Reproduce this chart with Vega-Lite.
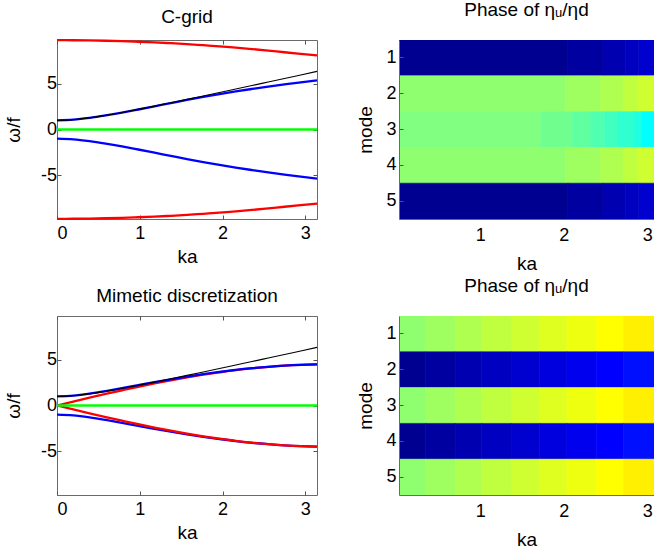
{
"$schema":"https://vega.github.io/schema/vega-lite/v6.json",
"padding":{"left":4,"top":0,"right":0,"bottom":0},
"config":{
 "font":"Liberation Sans",
 "view":{"stroke":"#6a6a6a"},
 "axis":{"grid":false,"domain":false,"domainColor":"#6a6a6a","tickColor":"#555555","tickSize":-4,"labelFontSize":18,"titleFontSize":19,"titleFontWeight":"normal","labelColor":"#000000","titleColor":"#000000"},
 "axisX":{"labelPadding":9.5,"titlePadding":4.5},
 "axisY":{"labelPadding":4.5,"titlePadding":16.5},
 "title":{"fontSize":19,"fontWeight":"normal","color":"#000000"},
 "line":{"interpolate":"monotone"}
},
"datasets":{
 "cgrid":[
  {"c":"b+","k":0,"w":1},{"c":"b+","k":0.1963,"w":1.074},{"c":"b+","k":0.3927,"w":1.27},{"c":"b+","k":0.589,"w":1.54},{"c":"b+","k":0.7854,"w":1.85},{"c":"b+","k":0.9817,"w":2.19},{"c":"b+","k":1.1781,"w":2.54},{"c":"b+","k":1.3744,"w":2.89},{"c":"b+","k":1.5708,"w":3.24},{"c":"b+","k":1.7671,"w":3.57},{"c":"b+","k":1.9635,"w":3.88},{"c":"b+","k":2.1598,"w":4.17},{"c":"b+","k":2.3562,"w":4.44},{"c":"b+","k":2.5525,"w":4.7},{"c":"b+","k":2.7489,"w":4.94},{"c":"b+","k":2.9452,"w":5.17},{"c":"b+","k":3.1416,"w":5.38},
  {"c":"b-","k":0,"w":-1},{"c":"b-","k":0.1963,"w":-1.074},{"c":"b-","k":0.3927,"w":-1.27},{"c":"b-","k":0.589,"w":-1.54},{"c":"b-","k":0.7854,"w":-1.85},{"c":"b-","k":0.9817,"w":-2.19},{"c":"b-","k":1.1781,"w":-2.54},{"c":"b-","k":1.3744,"w":-2.89},{"c":"b-","k":1.5708,"w":-3.24},{"c":"b-","k":1.7671,"w":-3.57},{"c":"b-","k":1.9635,"w":-3.88},{"c":"b-","k":2.1598,"w":-4.17},{"c":"b-","k":2.3562,"w":-4.44},{"c":"b-","k":2.5525,"w":-4.7},{"c":"b-","k":2.7489,"w":-4.94},{"c":"b-","k":2.9452,"w":-5.17},{"c":"b-","k":3.1416,"w":-5.38},
  {"c":"r+","k":0,"w":9.78},{"c":"r+","k":0.1963,"w":9.77},{"c":"r+","k":0.3927,"w":9.75},{"c":"r+","k":0.589,"w":9.72},{"c":"r+","k":0.7854,"w":9.67},{"c":"r+","k":0.9817,"w":9.61},{"c":"r+","k":1.1781,"w":9.54},{"c":"r+","k":1.3744,"w":9.45},{"c":"r+","k":1.5708,"w":9.35},{"c":"r+","k":1.7671,"w":9.23},{"c":"r+","k":1.9635,"w":9.11},{"c":"r+","k":2.1598,"w":8.96},{"c":"r+","k":2.3562,"w":8.81},{"c":"r+","k":2.5525,"w":8.64},{"c":"r+","k":2.7489,"w":8.46},{"c":"r+","k":2.9452,"w":8.29},{"c":"r+","k":3.1416,"w":8.12},
  {"c":"r-","k":0,"w":-9.78},{"c":"r-","k":0.1963,"w":-9.77},{"c":"r-","k":0.3927,"w":-9.75},{"c":"r-","k":0.589,"w":-9.72},{"c":"r-","k":0.7854,"w":-9.67},{"c":"r-","k":0.9817,"w":-9.61},{"c":"r-","k":1.1781,"w":-9.54},{"c":"r-","k":1.3744,"w":-9.45},{"c":"r-","k":1.5708,"w":-9.35},{"c":"r-","k":1.7671,"w":-9.23},{"c":"r-","k":1.9635,"w":-9.11},{"c":"r-","k":2.1598,"w":-8.96},{"c":"r-","k":2.3562,"w":-8.81},{"c":"r-","k":2.5525,"w":-8.64},{"c":"r-","k":2.7489,"w":-8.46},{"c":"r-","k":2.9452,"w":-8.29},{"c":"r-","k":3.1416,"w":-8.12},
  {"c":"g","k":0,"w":0},{"c":"g","k":3.1416,"w":0},
  {"c":"x","k":0,"w":1},{"c":"x","k":0.1963,"w":1.0744},{"c":"x","k":0.3927,"w":1.2716},{"c":"x","k":0.589,"w":1.5453},{"c":"x","k":0.7854,"w":1.8621},{"c":"x","k":0.9817,"w":2.2035},{"c":"x","k":1.1781,"w":2.5596},{"c":"x","k":1.3744,"w":2.9252},{"c":"x","k":1.5708,"w":3.2969},{"c":"x","k":1.7671,"w":3.6731},{"c":"x","k":1.9635,"w":4.0523},{"c":"x","k":2.1598,"w":4.4339},{"c":"x","k":2.3562,"w":4.8173},{"c":"x","k":2.5525,"w":5.2021},{"c":"x","k":2.7489,"w":5.588},{"c":"x","k":2.9452,"w":5.9748},{"c":"x","k":3.1416,"w":6.3623}
 ],
 "mimetic":[
  {"c":"b+","k":0,"w":1},{"c":"b+","k":0.1963,"w":1.084},{"c":"b+","k":0.3927,"w":1.298},{"c":"b+","k":0.589,"w":1.582},{"c":"b+","k":0.7854,"w":1.9},{"c":"b+","k":0.9817,"w":2.232},{"c":"b+","k":1.1781,"w":2.559},{"c":"b+","k":1.3744,"w":2.866},{"c":"b+","k":1.5708,"w":3.16},{"c":"b+","k":1.7671,"w":3.429},{"c":"b+","k":1.9635,"w":3.672},{"c":"b+","k":2.1598,"w":3.899},{"c":"b+","k":2.3562,"w":4.088},{"c":"b+","k":2.5525,"w":4.24},{"c":"b+","k":2.7489,"w":4.364},{"c":"b+","k":2.9452,"w":4.451},{"c":"b+","k":3.1416,"w":4.5},
  {"c":"b-","k":0,"w":-1},{"c":"b-","k":0.1963,"w":-1.084},{"c":"b-","k":0.3927,"w":-1.298},{"c":"b-","k":0.589,"w":-1.582},{"c":"b-","k":0.7854,"w":-1.9},{"c":"b-","k":0.9817,"w":-2.232},{"c":"b-","k":1.1781,"w":-2.559},{"c":"b-","k":1.3744,"w":-2.866},{"c":"b-","k":1.5708,"w":-3.16},{"c":"b-","k":1.7671,"w":-3.429},{"c":"b-","k":1.9635,"w":-3.672},{"c":"b-","k":2.1598,"w":-3.899},{"c":"b-","k":2.3562,"w":-4.088},{"c":"b-","k":2.5525,"w":-4.24},{"c":"b-","k":2.7489,"w":-4.364},{"c":"b-","k":2.9452,"w":-4.451},{"c":"b-","k":3.1416,"w":-4.5},
  {"c":"r+","k":0,"w":0},{"c":"r+","k":0.1963,"w":0.43},{"c":"r+","k":0.3927,"w":0.85},{"c":"r+","k":0.589,"w":1.26},{"c":"r+","k":0.7854,"w":1.66},{"c":"r+","k":0.9817,"w":2.05},{"c":"r+","k":1.1781,"w":2.42},{"c":"r+","k":1.3744,"w":2.76},{"c":"r+","k":1.5708,"w":3.08},{"c":"r+","k":1.7671,"w":3.37},{"c":"r+","k":1.9635,"w":3.63},{"c":"r+","k":2.1598,"w":3.87},{"c":"r+","k":2.3562,"w":4.07},{"c":"r+","k":2.5525,"w":4.23},{"c":"r+","k":2.7489,"w":4.36},{"c":"r+","k":2.9452,"w":4.45},{"c":"r+","k":3.1416,"w":4.5},
  {"c":"r-","k":0,"w":0},{"c":"r-","k":0.1963,"w":-0.43},{"c":"r-","k":0.3927,"w":-0.85},{"c":"r-","k":0.589,"w":-1.26},{"c":"r-","k":0.7854,"w":-1.66},{"c":"r-","k":0.9817,"w":-2.05},{"c":"r-","k":1.1781,"w":-2.42},{"c":"r-","k":1.3744,"w":-2.76},{"c":"r-","k":1.5708,"w":-3.08},{"c":"r-","k":1.7671,"w":-3.37},{"c":"r-","k":1.9635,"w":-3.63},{"c":"r-","k":2.1598,"w":-3.87},{"c":"r-","k":2.3562,"w":-4.07},{"c":"r-","k":2.5525,"w":-4.23},{"c":"r-","k":2.7489,"w":-4.36},{"c":"r-","k":2.9452,"w":-4.45},{"c":"r-","k":3.1416,"w":-4.5},
  {"c":"g","k":0,"w":0},{"c":"g","k":3.1416,"w":0},
  {"c":"x","k":0,"w":1},{"c":"x","k":0.1963,"w":1.0744},{"c":"x","k":0.3927,"w":1.2716},{"c":"x","k":0.589,"w":1.5453},{"c":"x","k":0.7854,"w":1.8621},{"c":"x","k":0.9817,"w":2.2035},{"c":"x","k":1.1781,"w":2.5596},{"c":"x","k":1.3744,"w":2.9252},{"c":"x","k":1.5708,"w":3.2969},{"c":"x","k":1.7671,"w":3.6731},{"c":"x","k":1.9635,"w":4.0523},{"c":"x","k":2.1598,"w":4.4339},{"c":"x","k":2.3562,"w":4.8173},{"c":"x","k":2.5525,"w":5.2021},{"c":"x","k":2.7489,"w":5.588},{"c":"x","k":2.9452,"w":5.9748},{"c":"x","k":3.1416,"w":6.3623}
 ],
 "heat1":[
  {"m":1,"k0":0.0245,"k1":2.05,"p":-3.0925},{"m":1,"k0":2.05,"k1":2.47,"p":-2.9943},{"m":1,"k0":2.47,"k1":2.74,"p":-2.8961},{"m":1,"k0":2.74,"k1":2.9,"p":-2.7979},{"m":1,"k0":2.9,"k1":3.166,"p":-2.6998},
  {"m":2,"k0":0.0245,"k1":2.02,"p":0.0491},{"m":2,"k0":2.02,"k1":2.44,"p":0.1473},{"m":2,"k0":2.44,"k1":2.71,"p":0.2454},{"m":2,"k0":2.71,"k1":2.89,"p":0.3436},{"m":2,"k0":2.89,"k1":3.166,"p":0.4418},
  {"m":3,"k0":0.0245,"k1":1.72,"p":-0.0491},{"m":3,"k0":1.72,"k1":2.1,"p":-0.1473},{"m":3,"k0":2.1,"k1":2.32,"p":-0.2454},{"m":3,"k0":2.32,"k1":2.49,"p":-0.3436},{"m":3,"k0":2.49,"k1":2.65,"p":-0.4418},{"m":3,"k0":2.65,"k1":2.84,"p":-0.54},{"m":3,"k0":2.84,"k1":2.93,"p":-0.6381},{"m":3,"k0":2.93,"k1":3.166,"p":-0.8345},
  {"m":4,"k0":0.0245,"k1":2.02,"p":0.0491},{"m":4,"k0":2.02,"k1":2.44,"p":0.1473},{"m":4,"k0":2.44,"k1":2.71,"p":0.2454},{"m":4,"k0":2.71,"k1":2.89,"p":0.3436},{"m":4,"k0":2.89,"k1":3.166,"p":0.4418},
  {"m":5,"k0":0.0245,"k1":2.05,"p":-3.0925},{"m":5,"k0":2.05,"k1":2.47,"p":-2.9943},{"m":5,"k0":2.47,"k1":2.74,"p":-2.8961},{"m":5,"k0":2.74,"k1":2.9,"p":-2.7979},{"m":5,"k0":2.9,"k1":3.166,"p":-2.6998}
 ],
 "heat2":[
  {"m":1,"k0":0.0245,"k1":0.346,"p":0.0491},{"m":1,"k0":0.346,"k1":0.697,"p":0.1473},{"m":1,"k0":0.697,"k1":1.017,"p":0.2454},{"m":1,"k0":1.017,"k1":1.368,"p":0.3436},{"m":1,"k0":1.368,"k1":1.711,"p":0.4418},{"m":1,"k0":1.711,"k1":2.038,"p":0.54},{"m":1,"k0":2.038,"k1":2.389,"p":0.6381},{"m":1,"k0":2.389,"k1":2.717,"p":0.7363},{"m":1,"k0":2.717,"k1":3.166,"p":0.8345},
  {"m":2,"k0":0.0245,"k1":0.346,"p":-3.0925},{"m":2,"k0":0.346,"k1":0.697,"p":-2.9943},{"m":2,"k0":0.697,"k1":1.017,"p":-2.8961},{"m":2,"k0":1.017,"k1":1.368,"p":-2.7979},{"m":2,"k0":1.368,"k1":1.711,"p":-2.6998},{"m":2,"k0":1.711,"k1":2.038,"p":-2.6016},{"m":2,"k0":2.038,"k1":2.389,"p":-2.5034},{"m":2,"k0":2.389,"k1":2.717,"p":-2.4053},{"m":2,"k0":2.717,"k1":3.166,"p":-2.3071},
  {"m":3,"k0":0.0245,"k1":0.346,"p":0.0491},{"m":3,"k0":0.346,"k1":0.697,"p":0.1473},{"m":3,"k0":0.697,"k1":1.017,"p":0.2454},{"m":3,"k0":1.017,"k1":1.368,"p":0.3436},{"m":3,"k0":1.368,"k1":1.711,"p":0.4418},{"m":3,"k0":1.711,"k1":2.038,"p":0.54},{"m":3,"k0":2.038,"k1":2.389,"p":0.6381},{"m":3,"k0":2.389,"k1":2.717,"p":0.7363},{"m":3,"k0":2.717,"k1":3.166,"p":0.8345},
  {"m":4,"k0":0.0245,"k1":0.346,"p":-3.0925},{"m":4,"k0":0.346,"k1":0.697,"p":-2.9943},{"m":4,"k0":0.697,"k1":1.017,"p":-2.8961},{"m":4,"k0":1.017,"k1":1.368,"p":-2.7979},{"m":4,"k0":1.368,"k1":1.711,"p":-2.6998},{"m":4,"k0":1.711,"k1":2.038,"p":-2.6016},{"m":4,"k0":2.038,"k1":2.389,"p":-2.5034},{"m":4,"k0":2.389,"k1":2.717,"p":-2.4053},{"m":4,"k0":2.717,"k1":3.166,"p":-2.3071},
  {"m":5,"k0":0.0245,"k1":0.346,"p":0.0491},{"m":5,"k0":0.346,"k1":0.697,"p":0.1473},{"m":5,"k0":0.697,"k1":1.017,"p":0.2454},{"m":5,"k0":1.017,"k1":1.368,"p":0.3436},{"m":5,"k0":1.368,"k1":1.711,"p":0.4418},{"m":5,"k0":1.711,"k1":2.038,"p":0.54},{"m":5,"k0":2.038,"k1":2.389,"p":0.6381},{"m":5,"k0":2.389,"k1":2.717,"p":0.7363},{"m":5,"k0":2.717,"k1":3.166,"p":0.8345}
 ]
},
"columns":2,
"bounds":"flush",
"spacing":{"row":97,"column":82},
"concat":[
 {
  "width":260,"height":179,
  "title":{"text":"C-grid","offset":9},
  "data":{"name":"cgrid"},
  "layer":[
   {"transform":[{"filter":"datum.c==='b-'"}],"mark":{"type":"line","color":"#0000ff","strokeWidth":2.3},
    "encoding":{"x":{"field":"k","type":"quantitative","scale":{"domain":[0,3.1416],"nice":false,"zero":false},"axis":{"values":[0,1,2,3],"title":"ka"}},
                "y":{"field":"w","type":"quantitative","scale":{"domain":[-9.8,9.8],"nice":false,"zero":false},"axis":{"values":[-5,0,5],"title":"ω/f","labelExpr":"replace(datum.label,'−','-')"}}}},
   {"transform":[{"filter":"datum.c==='r-'||datum.c==='r+'"}],"mark":{"type":"line","color":"#ff0000","strokeWidth":2.3},
    "encoding":{"detail":{"field":"c"},"x":{"field":"k","type":"quantitative","scale":{"domain":[0,3.1416],"nice":false,"zero":false},"axis":{"values":[0,1,2,3],"orient":"top","labels":false,"title":null}},
                "y":{"field":"w","type":"quantitative","scale":{"domain":[-9.8,9.8],"nice":false,"zero":false},"axis":{"values":[-5,0,5],"orient":"right","labels":false,"title":null}}}},
   {"transform":[{"filter":"datum.c==='b+'"}],"mark":{"type":"line","color":"#0000ff","strokeWidth":2.3},
    "encoding":{"x":{"field":"k","type":"quantitative","scale":{"domain":[0,3.1416],"nice":false,"zero":false},"axis":null},
                "y":{"field":"w","type":"quantitative","scale":{"domain":[-9.8,9.8],"nice":false,"zero":false},"axis":null}}},
   {"transform":[{"filter":"datum.c==='g'"}],"mark":{"type":"line","color":"#00ff00","strokeWidth":2.3},
    "encoding":{"x":{"field":"k","type":"quantitative","scale":{"domain":[0,3.1416],"nice":false,"zero":false},"axis":null},
                "y":{"field":"w","type":"quantitative","scale":{"domain":[-9.8,9.8],"nice":false,"zero":false},"axis":null}}},
   {"transform":[{"filter":"datum.c==='x'"}],"mark":{"type":"line","color":"#000000","strokeWidth":1.1},
    "encoding":{"x":{"field":"k","type":"quantitative","scale":{"domain":[0,3.1416],"nice":false,"zero":false},"axis":null},
                "y":{"field":"w","type":"quantitative","scale":{"domain":[-9.8,9.8],"nice":false,"zero":false},"axis":null}}}
  ],
  "resolve":{"axis":{"x":"independent","y":"independent"}}
 },
 {
  "width":255,"height":179,
  "view":{"stroke":null},
  "title":{"text":"Phase of ηᵤ/ηd","offset":20},
  "data":{"name":"heat1"},
  "layer":[
   {"mark":{"type":"rect","clip":true,"strokeWidth":0.6},
    "encoding":{"x":{"field":"k0","type":"quantitative","scale":{"domain":[0.0245,3.082],"nice":false,"zero":false},"axis":{"values":[1,2,3],"title":"ka","domain":true,"labelPadding":11.5,"titlePadding":10}},
                "x2":{"field":"k1"},
                "y":{"field":"m","type":"ordinal","scale":{"paddingInner":0,"paddingOuter":0},"axis":{"title":"mode","domain":true,"labelAngle":0,"labelPadding":7,"titlePadding":10}},
                "color":{"field":"p","type":"quantitative","legend":null,"scale":{"domain":[-3.1907,-2.4053,-0.8345,0.7363,2.3071,3.0925],"range":["#000080","#0000ff","#00ffff","#ffff00","#ff0000","#800000"],"interpolate":"rgb"}},
                "stroke":{"field":"p","type":"quantitative","legend":null,"scale":{"domain":[-3.1907,-2.4053,-0.8345,0.7363,2.3071,3.0925],"range":["#000080","#0000ff","#00ffff","#ffff00","#ff0000","#800000"],"interpolate":"rgb"}}}},
   {"mark":{"type":"rect","clip":true,"opacity":0},
    "encoding":{"x":{"field":"k0","type":"quantitative","scale":{"domain":[0.0245,3.082],"nice":false,"zero":false},"axis":{"values":[1,2,3],"orient":"top","labels":false,"title":null,"domain":true}},
                "x2":{"field":"k1"},
                "y":{"field":"m","type":"ordinal","scale":{"paddingInner":0,"paddingOuter":0},"axis":null}}}
  ],
  "resolve":{"axis":{"x":"independent","y":"independent"}}
 },
 {
  "width":260,"height":179,
  "title":{"text":"Mimetic discretization","offset":10},
  "data":{"name":"mimetic"},
  "layer":[
   {"transform":[{"filter":"datum.c==='b-'"}],"mark":{"type":"line","color":"#0000ff","strokeWidth":2.3},
    "encoding":{"x":{"field":"k","type":"quantitative","scale":{"domain":[0,3.1416],"nice":false,"zero":false},"axis":{"values":[0,1,2,3],"title":"ka"}},
                "y":{"field":"w","type":"quantitative","scale":{"domain":[-9.8,9.8],"nice":false,"zero":false},"axis":{"values":[-5,0,5],"title":"ω/f","labelExpr":"replace(datum.label,'−','-')"}}}},
   {"transform":[{"filter":"datum.c==='r-'||datum.c==='r+'"}],"mark":{"type":"line","color":"#ff0000","strokeWidth":2.3},
    "encoding":{"detail":{"field":"c"},"x":{"field":"k","type":"quantitative","scale":{"domain":[0,3.1416],"nice":false,"zero":false},"axis":{"values":[0,1,2,3],"orient":"top","labels":false,"title":null}},
                "y":{"field":"w","type":"quantitative","scale":{"domain":[-9.8,9.8],"nice":false,"zero":false},"axis":{"values":[-5,0,5],"orient":"right","labels":false,"title":null}}}},
   {"transform":[{"filter":"datum.c==='b+'"}],"mark":{"type":"line","color":"#0000ff","strokeWidth":2.3},
    "encoding":{"x":{"field":"k","type":"quantitative","scale":{"domain":[0,3.1416],"nice":false,"zero":false},"axis":null},
                "y":{"field":"w","type":"quantitative","scale":{"domain":[-9.8,9.8],"nice":false,"zero":false},"axis":null}}},
   {"transform":[{"filter":"datum.c==='g'"}],"mark":{"type":"line","color":"#00ff00","strokeWidth":2.3},
    "encoding":{"x":{"field":"k","type":"quantitative","scale":{"domain":[0,3.1416],"nice":false,"zero":false},"axis":null},
                "y":{"field":"w","type":"quantitative","scale":{"domain":[-9.8,9.8],"nice":false,"zero":false},"axis":null}}},
   {"transform":[{"filter":"datum.c==='x'"}],"mark":{"type":"line","color":"#000000","strokeWidth":1.1},
    "encoding":{"x":{"field":"k","type":"quantitative","scale":{"domain":[0,3.1416],"nice":false,"zero":false},"axis":null},
                "y":{"field":"w","type":"quantitative","scale":{"domain":[-9.8,9.8],"nice":false,"zero":false},"axis":null}}}
  ],
  "resolve":{"axis":{"x":"independent","y":"independent"}}
 },
 {
  "width":255,"height":179,
  "view":{"stroke":null},
  "title":{"text":"Phase of ηᵤ/ηd","offset":20},
  "data":{"name":"heat2"},
  "layer":[
   {"mark":{"type":"rect","clip":true,"strokeWidth":0.6},
    "encoding":{"x":{"field":"k0","type":"quantitative","scale":{"domain":[0.0245,3.082],"nice":false,"zero":false},"axis":{"values":[1,2,3],"title":"ka","domain":true,"labelPadding":11.5,"titlePadding":10}},
                "x2":{"field":"k1"},
                "y":{"field":"m","type":"ordinal","scale":{"paddingInner":0,"paddingOuter":0},"axis":{"title":"mode","domain":true,"labelAngle":0,"labelPadding":7,"titlePadding":10}},
                "color":{"field":"p","type":"quantitative","legend":null,"scale":{"domain":[-3.1907,-2.4053,-0.8345,0.7363,2.3071,3.0925],"range":["#000080","#0000ff","#00ffff","#ffff00","#ff0000","#800000"],"interpolate":"rgb"}},
                "stroke":{"field":"p","type":"quantitative","legend":null,"scale":{"domain":[-3.1907,-2.4053,-0.8345,0.7363,2.3071,3.0925],"range":["#000080","#0000ff","#00ffff","#ffff00","#ff0000","#800000"],"interpolate":"rgb"}}}},
   {"mark":{"type":"rect","clip":true,"opacity":0},
    "encoding":{"x":{"field":"k0","type":"quantitative","scale":{"domain":[0.0245,3.082],"nice":false,"zero":false},"axis":{"values":[1,2,3],"orient":"top","labels":false,"title":null,"domain":true}},
                "x2":{"field":"k1"},
                "y":{"field":"m","type":"ordinal","scale":{"paddingInner":0,"paddingOuter":0},"axis":null}}}
  ],
  "resolve":{"axis":{"x":"independent","y":"independent"}}
 }
]
}
